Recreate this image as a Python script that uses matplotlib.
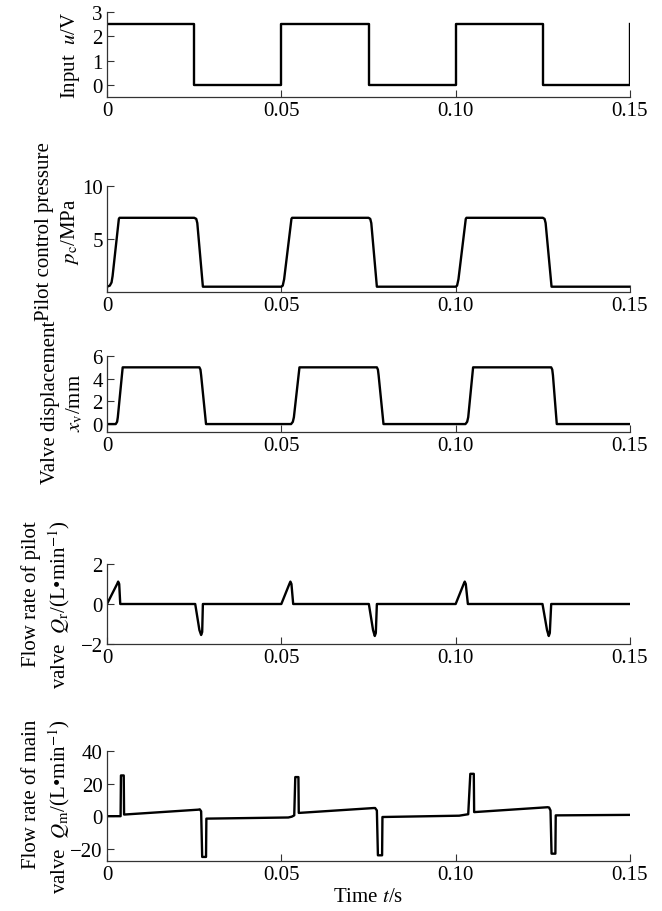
import matplotlib
matplotlib.use("Agg")
import matplotlib.pyplot as plt

# --- date (breakpoints, liniar intre ele) ---
t_input = [0.0, 0.025, 0.025, 0.05, 0.05, 0.075, 0.075, 0.10, 0.10, 0.125, 0.125, 0.15, 0.15]
u_input = [2.5, 2.5, 0.0, 0.0, 2.5, 2.5, 0.0, 0.0, 2.5, 2.5, 0.0, 0.0, 2.5]

t_pc = [0.0, 0.0008, 0.0013, 0.0016, 0.0034, 0.0036, 0.0250, 0.0256, 0.0259, 0.0275,
        0.0500, 0.0504, 0.0508, 0.0529, 0.0531, 0.0750, 0.0755, 0.0758, 0.0774,
        0.1000, 0.1004, 0.1008, 0.1029, 0.1031, 0.1250, 0.1255, 0.1258, 0.1275, 0.15]
p_c = [0.5, 0.6, 0.9, 1.5, 6.9, 7.0, 7.0, 6.9, 6.5, 0.5,
       0.5, 0.6, 1.2, 6.9, 7.0, 7.0, 6.9, 6.5, 0.5,
       0.5, 0.6, 1.2, 6.9, 7.0, 7.0, 6.9, 6.5, 0.5, 0.5]

t_xv = [0.0, 0.0025, 0.0029, 0.0031, 0.0045, 0.0265, 0.0268, 0.0270, 0.0284,
        0.0528, 0.0533, 0.0536, 0.0552, 0.0774, 0.0777, 0.0779, 0.0793,
        0.1028, 0.1033, 0.1036, 0.1050, 0.1274, 0.1277, 0.1279, 0.1290, 0.15]
x_v = [0.0, 0.0, 0.2, 0.6, 5.0, 5.0, 4.8, 4.3, 0.0,
       0.0, 0.2, 0.6, 5.0, 5.0, 4.8, 4.3, 0.0,
       0.0, 0.2, 0.6, 5.0, 5.0, 4.8, 4.3, 0.0, 0.0]

t_qr = [0.0, 0.0029, 0.0032, 0.0035, 0.0038, 0.0253, 0.0265, 0.0270, 0.0273, 0.0275,
        0.0500, 0.0523, 0.0526, 0.0529, 0.0534, 0.0751, 0.0763, 0.0768, 0.0771, 0.0774,
        0.1000, 0.1023, 0.1026, 0.1029, 0.1035, 0.1249, 0.1262, 0.1267, 0.1270, 0.1274, 0.15]
q_r = [0.0, 1.0, 1.12, 1.0, 0.0, 0.0, -1.3, -1.55, -1.4, 0.0,
       0.0, 1.0, 1.12, 1.0, 0.0, 0.0, -1.3, -1.6, -1.45, 0.0,
       0.0, 1.0, 1.12, 1.0, 0.0, 0.0, -1.3, -1.6, -1.45, 0.0, 0.0]

t_qm = [0.0, 0.0039, 0.0040, 0.0048, 0.0049, 0.0262, 0.0266, 0.0270, 0.0273, 0.0284, 0.0285,
        0.0520, 0.0530, 0.0537, 0.0540, 0.0549, 0.0550, 0.0765, 0.0769, 0.0774, 0.0777, 0.0789, 0.0790,
        0.1010, 0.1036, 0.1042, 0.1052, 0.1053, 0.1264, 0.1268, 0.1272, 0.1275, 0.1286, 0.1287, 0.15]
q_m = [0.0, 0.0, 25.0, 25.0, 1.0, 4.0, 4.2, 3.0, -25.0, -25.0, -1.5,
       -0.8, -0.3, 0.5, 24.0, 24.0, 2.0, 5.0, 5.0, 3.5, -24.0, -24.0, -0.5,
       0.3, 1.2, 26.0, 26.0, 2.5, 5.5, 5.3, 3.5, -23.0, -23.0, 0.5, 0.8]

x_ticks = [0, 0.05, 0.10, 0.15]
x_ticklabels = ["0", "0.05", "0.10", "0.15"]

# --- stil ---
plt.rcParams['font.family'] = ['Liberation Serif', 'DejaVu Serif']
plt.rcParams['mathtext.fontset'] = 'stix'
plt.rcParams['font.size'] = 15

fig = plt.figure(figsize=(6.62, 9.12), dpi=100)
W, H = 662.0, 912.0
x0, x1 = 107, 630

# (top_px, bottom_px, ylim, yticks, ylabel, label_x_px, label_y, multialign, t, y)
panels = [
    (13, 98, (-0.5, 3), [0, 1, 2, 3], "Input  $u$/V", 82, 0.5, 'center', t_input, u_input),
    (187, 293, (0, 10), [5, 10], "Pilot control pressure\n$p_{\\rm c}$/MPa", 81, 0.58, 'center', t_pc, p_c),
    (357, 433, (-0.7, 6), [0, 2, 4, 6], "Valve displacement\n$x_{\\rm v}$/mm", 85, 0.4, 'center', t_xv, x_v),
    (565, 645, (-2, 2), [-2, 0, 2], "Flow rate of pilot\nvalve  $Q_{\\rm r}$/(L\u2022min$^{-1}$)", 72, 0.5, 'right', t_qr, q_r),
    (752, 862, (-27.5, 40), [-20, 0, 20, 40], "Flow rate of main\nvalve  $Q_{\\rm m}$/(L\u2022min$^{-1}$)", 72, 0.5, 'right', t_qm, q_m),
]

axes = []
for top, bot, ylim, yt, lab, lx, ly, malign, tx, yy in panels:
    ax = fig.add_axes([x0 / W, 1 - bot / H, (x1 - x0) / W, (bot - top) / H])
    ax.plot(tx, yy, color='black', lw=1.7, solid_joinstyle='round')
    ax.set_xlim(0, 0.15)
    ax.set_ylim(*ylim)
    ax.set_xticks(x_ticks)
    ax.set_xticklabels(x_ticklabels)
    ax.set_yticks(yt)
    for s in ['top', 'right']:
        ax.spines[s].set_visible(False)
    for s in ['left', 'bottom']:
        ax.spines[s].set_color('#333333')
        ax.spines[s].set_linewidth(0.9)
    ax.tick_params(direction='in', length=5, width=0.8, color='#333333', pad=3)
    ax.set_ylabel(lab, multialignment=malign, linespacing=1.3)
    ax.yaxis.set_label_coords((lx - x0) / (x1 - x0), ly)
    axes.append(ax)

axes[-1].set_xlabel("Time $t$/s", labelpad=2)

fig.savefig("out.png", dpi=100, facecolor='white')
